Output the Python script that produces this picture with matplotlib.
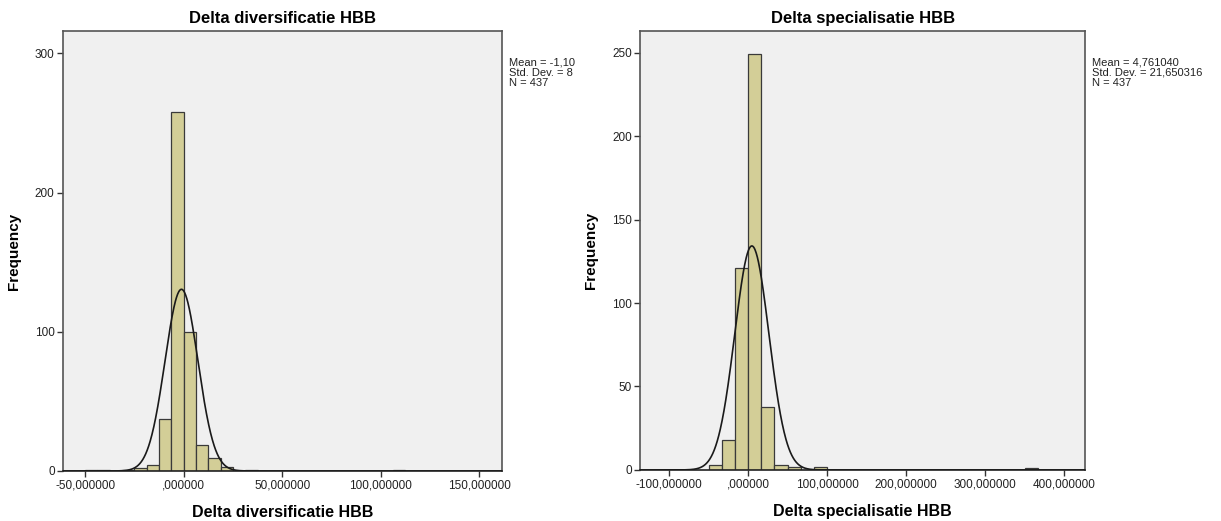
import matplotlib
matplotlib.use("Agg")
import matplotlib.pyplot as plt
import numpy as np
from matplotlib.ticker import FuncFormatter

plt.rcParams["font.family"] = ["Liberation Sans", "DejaVu Sans"]

# Delta diversificatie HBB: histogram bins (lower edge) and frequencies
div_bin_left = [-50, -43.75, -31.25, -25, -18.75, -12.5, -6.25, 0, 6.25, 12.5, 18.75, 31.25, 106.25]
div_counts = [1, 1, 1, 2, 4, 37, 258, 100, 19, 9, 3, 1, 1]
div_bin_width = 6.25
div_mean = -1.10
div_std = 8.35
div_n = 437
div_stats = ["Mean = -1,10", "Std. Dev. = 8", "N = 437"]
div_xticks = [-50, 0, 50, 100, 150]
div_yticks = [0, 100, 200, 300]

# Delta specialisatie HBB
spec_bin_left = [-50.0, -33.333, -16.667, 0.0, 16.667, 33.333, 50.0, 83.333, 350.0]
spec_counts = [3, 18, 121, 249, 38, 3, 2, 2, 1]
spec_bin_width = 16.667
spec_mean = 4.761040
spec_std = 21.650316
spec_n = 437
spec_stats = ["Mean = 4,761040", "Std. Dev. = 21,650316", "N = 437"]
spec_xticks = [-100, 0, 100, 200, 300, 400]
spec_yticks = [0, 50, 100, 150, 200, 250]

BAR_COLOR = "#d3ce97"
PANEL_BG = "#f0f0f0"
SPINE_COLOR = "#555555"


def spss_fmt(v, _pos=None):
    if abs(v) < 1e-9:
        return ",000000"
    return f"{v:.6f}".replace(".", ",")


def draw_hist(ax, title, bin_left, counts, width, mean, std, n, stats,
              xticks, yticks, xlim, ylim):
    ax.set_facecolor(PANEL_BG)
    ax.bar(bin_left, counts, width=width, align="edge", color=BAR_COLOR,
           edgecolor="#3a3a3a", linewidth=0.9, zorder=2)
    xs = np.linspace(xlim[0], xlim[1], 1200)
    ys = n * width / (std * np.sqrt(2 * np.pi)) * np.exp(-0.5 * ((xs - mean) / std) ** 2)
    ax.plot(xs, ys, color="#1a1a1a", linewidth=1.2, zorder=3)
    ax.set_xlim(*xlim)
    ax.set_ylim(*ylim)
    ax.set_xticks(xticks)
    ax.set_yticks(yticks)
    ax.xaxis.set_major_formatter(FuncFormatter(spss_fmt))
    ax.tick_params(direction="out", length=4, width=1, color="#333333",
                   labelsize=8.5, labelcolor="#222222", pad=2)
    for sp in ax.spines.values():
        sp.set_color(SPINE_COLOR)
        sp.set_linewidth(1.2)
    ax.spines["bottom"].set_color("#222222")
    ax.set_title(title, fontsize=12, fontweight="bold", pad=6)
    ax.set_xlabel(title, fontsize=11.5, fontweight="bold", labelpad=10)
    ax.set_ylabel("Frequency", fontsize=11, fontweight="bold", labelpad=10)
    ax.text(1.016, 0.94, "\n".join(stats), transform=ax.transAxes,
            fontsize=8, va="top", ha="left", color="#222222", linespacing=1.05)


fig = plt.figure(figsize=(12.21, 5.21), dpi=100)
ax1 = fig.add_axes([0.0516, 0.096, 0.3595, 0.8445])
ax2 = fig.add_axes([0.5242, 0.098, 0.3645, 0.8426])

draw_hist(ax1, "Delta diversificatie HBB", div_bin_left, div_counts, div_bin_width,
          div_mean, div_std, div_n, div_stats, div_xticks, div_yticks,
          (-61.2, 161.5), (0, 316))
draw_hist(ax2, "Delta specialisatie HBB", spec_bin_left, spec_counts, spec_bin_width,
          spec_mean, spec_std, spec_n, spec_stats, spec_xticks, spec_yticks,
          (-136.8, 426.7), (0, 263))

fig.savefig("out.png", dpi=100)
